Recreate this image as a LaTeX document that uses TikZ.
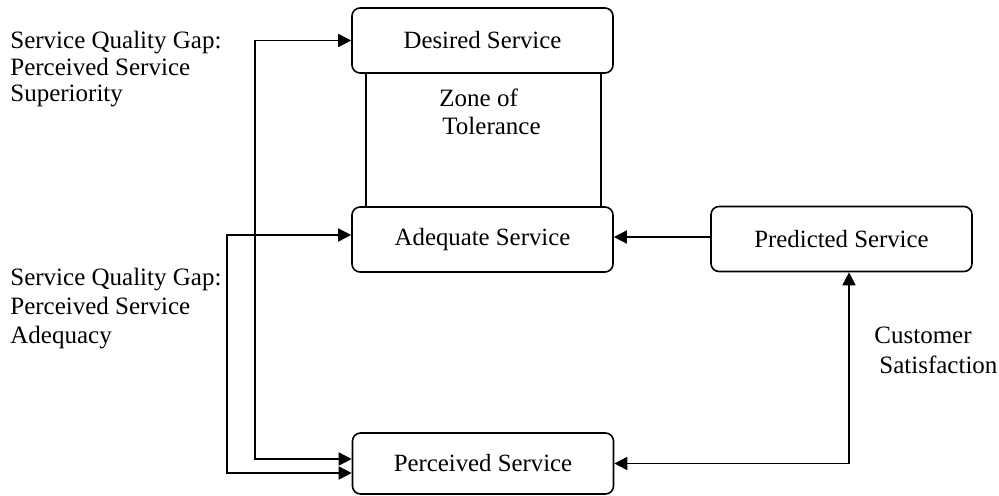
\documentclass[tikz,border=0pt]{standalone}
\usepackage{fontspec}
\setmainfont{Liberation Serif}
\usetikzlibrary{arrows.meta,calc}
\begin{document}
\begin{tikzpicture}[x=0.5pt,y=-0.5pt,
  box/.style={draw,line width=0.8pt,rounded corners=4pt,fill=white,
    minimum width=130.5pt,minimum height=32.5pt,inner sep=0pt,
    font=\fontsize{12.4}{14}\selectfont},
  conn/.style={line width=0.8pt,-{Triangle[length=6.5pt,width=6.5pt]}},
  dconn/.style={line width=0.8pt,{Triangle[length=6.5pt,width=6.5pt]}-{Triangle[length=6.5pt,width=6.5pt]}},
  lbl/.style={anchor=base west,inner sep=0pt,align=left}]
\useasboundingbox (0,0) rectangle (999,496);
% zone of tolerance frame
\draw[line width=0.8pt] (366,73) rectangle (601,207);
\node[box] (des) at (482.5,40.5) {Desired Service};
\node[box] (ade) at (482.5,239.5) {Adequate Service};
\node[box] (pre) at (841.5,239) {Predicted Service};
\node[box,minimum height=30.5pt] (per) at (483,463.5) {Perceived Service};
% connectors
\draw[dconn] (des.west) -- ++(-96,0) |- ($(per.west)+(0,-4.5)$);
\draw[dconn] ($(ade.west)+(0,-4.5)$) -- ++(-124,0) |- ($(per.west)+(0,9.5)$);
\draw[conn] ($(pre.west)+(0,-2)$) -- ($(ade.east)+(0,-2.5)$);
\draw[dconn] ($(pre.south)+(7.5,0)$) |- (per.east);
% labels (base anchor = baseline of last line)
\node[lbl,font=\fontsize{12.5}{13.25}\selectfont] (gap1) at (10,102) {Service Quality Gap:\\Perceived Service\\Superiority};
\node[lbl,font=\fontsize{12.5}{14.25}\selectfont] (gap2) at (10,343) {Service Quality Gap:\\Perceived Service\\Adequacy};
\node[lbl,font=\fontsize{12.5}{14}\selectfont] (zone) at (439,135) {Zone of\\\hspace{1.5pt}Tolerance};
\node[lbl,font=\fontsize{12.5}{15}\selectfont] (cs) at (874,373) {Customer\\\hspace{2.5pt}Satisfaction};
\end{tikzpicture}
\end{document}
